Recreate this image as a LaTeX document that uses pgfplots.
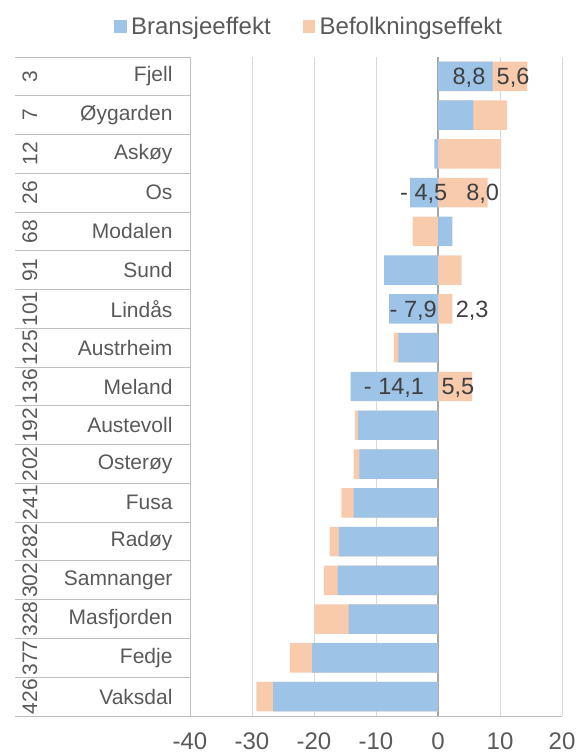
\documentclass[border=0pt]{standalone}
\usepackage{fontspec}
\setmainfont{Liberation Sans}
\usepackage{pgfplots}
\usepackage{pgfplotstable}
\pgfplotsset{compat=1.18}
\definecolor{blueC}{HTML}{9DC3E6}
\definecolor{orangeC}{HTML}{F8CBAD}
\definecolor{txt}{HTML}{595959}
\definecolor{lblC}{HTML}{404040}
\definecolor{gridC}{HTML}{D9D9D9}
\definecolor{axC}{HTML}{BFBFBF}
\definecolor{zeroC}{HTML}{A6A6A6}

\pgfplotstableread{
y b o
0 -26.6 -2.7
1 -20.3 -3.6
2 -14.4 -5.5
3 -16.2 -2.2
4 -16.0 -1.5
5 -13.6 -2.0
6 -12.7 -0.9
7 -12.9 -0.5
8 -14.1 5.5
9 -6.4 -0.7
10 -7.9 2.3
11 -8.7 3.8
12 2.3 -4.1
13 -4.5 8.0
14 -0.6 10.2
15 5.7 5.4
16 8.8 5.6
}\data

\begin{document}
\begin{tikzpicture}
\useasboundingbox (0,0) rectangle (584pt,754pt);
\begin{axis}[
 at={(190pt,38pt)}, anchor=south west,
 scale only axis, width=372pt, height=659pt,
 xbar, bar width=0.76, bar shift=0pt,
 legend image code/.code={\fill[#1] (0pt,-6.2pt) rectangle (12.5pt,6.3pt); \path (0pt,0pt) -- (15pt,0pt);},
 xmin=-40, xmax=20, ymin=-0.5, ymax=16.5,
 xtick={-40,-30,...,20}, xticklabels={-40,-30,-20,-10,0,10,20},
 xmajorgrids, major grid style={gridC, line width=0.9pt},
 extra x ticks={0}, extra x tick labels={},
 extra x tick style={major grid style={zeroC, line width=1.1pt}},
 ytick={0,...,16},
 yticklabels={Vaksdal,Fedje,Masfjorden,Samnanger,Radøy,Fusa,Osterøy,Austevoll,Meland,Austrheim,Lindås,Sund,Modalen,Os,Askøy,Øygarden,Fjell},
 minor ytick={-0.5,0.5,...,16.5},
 extra y ticks={0,...,16},
 extra y tick labels={426,377,328,302,282,241,202,192,136,125,101,91,68,26,12,7,3},
 extra y tick style={tick label style={xshift=-160pt, rotate=90, anchor=center, xshift=14pt}},
 major tick length=0pt, minor tick length=175pt, tick align=outside,
 ytick pos=left, xtick pos=bottom,
 axis x line*=bottom, axis y line*=left,
 every non boxed x axis/.append style={x axis line style=-},
 every non boxed y axis/.append style={y axis line style=-},
 axis line style={axC, line width=0.9pt},
 tick style={axC, line width=0.9pt},
 tick label style={text=txt},
 xticklabel style={font=\fontsize{24}{28}\selectfont, yshift=-13pt},
 yticklabel style={font=\fontsize{21}{25}\selectfont, xshift=-14pt},
 legend columns=2,
 legend style={at={(0.32,1.046)}, anchor=center, draw=none, fill=none,
   font=\fontsize{24}{28}\selectfont, text=txt,
   /tikz/every even column/.append style={column sep=30pt}},
 clip=false,
]
\addplot[fill=orangeC, draw=none, forget plot] table[y=y, x expr={\thisrow{b}*\thisrow{o}>0 ? \thisrow{b}+\thisrow{o} : \thisrow{o}}]{\data};
\addplot[fill=blueC, draw=none] table[y=y, x=b]{\data};
\addlegendentry{Bransjeeffekt}
\addlegendimage{fill=orangeC, draw=none}
\addlegendentry{Befolkningseffekt}

\begin{scope}[every node/.style={text=lblC, font=\fontsize{23.5}{27}\selectfont, anchor=center, yshift=-1.5pt}]
\node at (axis cs:5.0,16) {8,8};
\node at (axis cs:12.1,16) {5,6};
\node at (axis cs:-2.3,13) {- 4,5};
\node at (axis cs:7.2,13) {8,0};
\node at (axis cs:-4.0,10) {- 7,9};
\node at (axis cs:5.5,10) {2,3};
\node at (axis cs:-7.1,8) {- 14,1};
\node at (axis cs:3.2,8) {5,5};
\end{scope}
\end{axis}
\end{tikzpicture}
\end{document}
